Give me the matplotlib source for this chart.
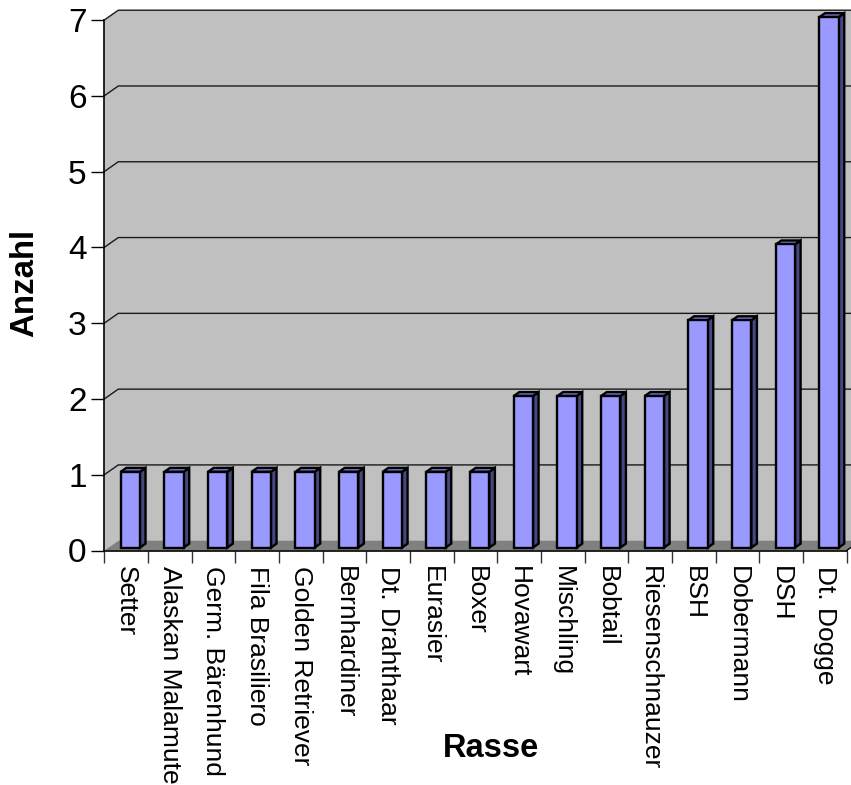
import matplotlib
matplotlib.use("Agg")
import matplotlib.pyplot as plt
from matplotlib.patches import Polygon
from matplotlib.lines import Line2D

plt.rcParams['font.family'] = ['Liberation Sans', 'DejaVu Sans']

breeds = ["Setter", "Alaskan Malamute", "Germ. Bärenhund", "Fila Brasiliero",
          "Golden Retriever", "Bernhardiner", "Dt. Drahthaar", "Eurasier", "Boxer",
          "Hovawart", "Mischling", "Bobtail", "Riesenschnauzer", "BSH",
          "Dobermann", "DSH", "Dt. Dogge"]
counts = [1, 1, 1, 1, 1, 1, 1, 1, 1, 2, 2, 2, 2, 3, 3, 4, 7]
y_ticks = [0, 1, 2, 3, 4, 5, 6, 7]

W, H = 851, 785
fig = plt.figure(figsize=(W / 100, H / 100), dpi=100)

# front plane of the pseudo-3D chart box (pixel bounds)
x0_px, x1_px = 104.3, 846.7
y0_px, y1_px = 550.5, 20.0
ax = fig.add_axes([x0_px / W, 1 - y0_px / H, (x1_px - x0_px) / W, (y0_px - y1_px) / H])
n = len(breeds)
ax.set_xlim(-0.5, n - 0.5)
ax.set_ylim(0, 7)
ax.set_facecolor('none')

cat_px = (x1_px - x0_px) / n
unit_px = (y0_px - y1_px) / 7
DX = 14.0 / cat_px     # depth offset in data units
DY = 9.8 / unit_px

wall_c = '#C0C0C0'
floor_c = '#808080'
xl, xr = -0.5, n - 0.5
ytop = 7

def poly(pts, fc, ec='none', lw=0.0, z=1.0):
    p = Polygon(pts, closed=True, facecolor=fc, edgecolor=ec, linewidth=lw,
                clip_on=False, zorder=z, joinstyle='miter')
    ax.add_patch(p)

# side wall, back wall, floor
poly([(xl, 0), (xl + DX, DY), (xl + DX, ytop + DY), (xl, ytop)], wall_c, z=0.5)
poly([(xl + DX, DY), (xr + DX, DY), (xr + DX, ytop + DY), (xl + DX, ytop + DY)], wall_c, z=0.5)
poly([(xl, 0), (xr, 0), (xr + DX, DY), (xl + DX, DY)], floor_c, z=0.7)
ax.add_line(Line2D([xr, xr + DX], [0, DY], color='black', lw=1.0, clip_on=False, zorder=0.8))

# gridlines running across side wall and back wall
for v in y_ticks[1:]:
    ax.add_line(Line2D([xl, xl + DX, xr + DX], [v, v + DY, v + DY],
                       color='#1a1a1a', lw=1.0, clip_on=False, zorder=0.6))

# bars as 3D boxes
bw = 0.44
s, e = 0.3, 0.7
front_c, side_c, top_c = '#9999FF', '#474780', '#7373C6'
for i, v in enumerate(counts):
    a = i - bw / 2
    b = i + bw / 2
    sx, sy = s * DX, s * DY
    ex, ey = e * DX, e * DY
    poly([(b + sx, sy), (b + ex, ey), (b + ex, v + ey), (b + sx, v + sy)],
         side_c, 'black', 1.7, z=3)
    poly([(a + sx, v + sy), (b + sx, v + sy), (b + ex, v + ey), (a + ex, v + ey)],
         top_c, 'black', 1.7, z=3)
    poly([(a + sx, sy), (b + sx, sy), (b + sx, v + sy), (a + sx, v + sy)],
         front_c, 'black', 1.7, z=3.1)

# axes lines and ticks
for side in ('top', 'right'):
    ax.spines[side].set_visible(False)
for side in ('left', 'bottom'):
    ax.spines[side].set_color('black')
    ax.spines[side].set_linewidth(1.2)

ax.set_yticks(y_ticks)
ax.set_yticklabels([str(t) for t in y_ticks])
ax.tick_params(axis='y', direction='out', length=9.1, width=1.0, pad=3.6,
               labelsize=24, colors='black')

ax.set_xticks([k - 0.5 for k in range(n + 1)])
ax.set_xticklabels([])
ax.set_xticks(range(n), minor=True)
ax.set_xticklabels(breeds, minor=True, rotation=270, ha='center', va='top',
                   fontsize=19, rotation_mode='default')
ax.tick_params(axis='x', which='major', direction='out', length=8.6, width=1.0,
               colors='#333333')
ax.tick_params(axis='x', which='minor', length=0, pad=11.5, labelcolor='black')

fig.text(24.7 / W, 1 - 283 / H, 'Anzahl', rotation=90, ha='center', va='center',
         fontsize=23.8, fontweight='bold')
fig.text(491 / W, 1 - 757 / H, 'Rasse', ha='center', va='baseline',
         fontsize=23.5, fontweight='bold')

fig.savefig('out.png', dpi=100)
